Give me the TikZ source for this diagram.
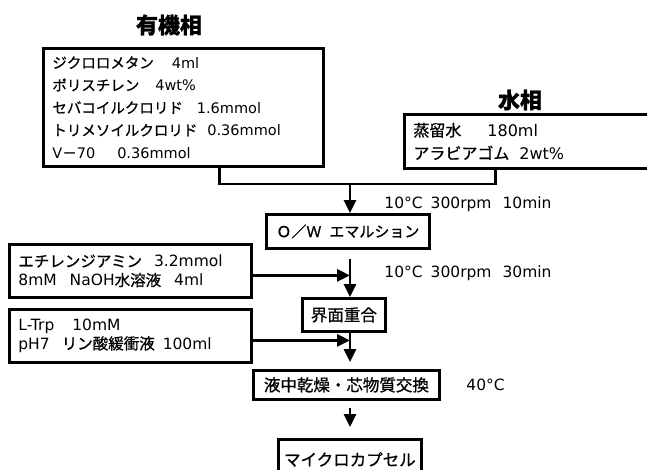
\documentclass[tikz,border=0pt]{standalone}
\usepackage{fontspec}
\setmainfont{DejaVu Sans}
\newfontfamily\jp{Noto Sans CJK JP}[FakeBold=0.8]
\usetikzlibrary{arrows.meta}

\begin{document}
\begin{tikzpicture}[x=1pt,y=-1pt,line width=2.8pt,
  box/.style={draw,anchor=north west,align=left,inner xsep=9pt,inner ysep=0pt},
  flow/.style={draw,anchor=north west,align=center,inner sep=0pt,font=\jp\fontsize{16.5}{18}\selectfont},
  ttl/.style={inner sep=0pt,font=\jp\bfseries\fontsize{22}{26}\selectfont},
  lbl/.style={anchor=west,inner sep=0pt,font=\fontsize{15.5}{18}\selectfont},
  arr/.style={-{Triangle[length=13pt,width=12pt]}}]
\useasboundingbox (0,0) rectangle (647,469);
\clip (0,0) rectangle (647,469);
% phases
\node[ttl] (torg) at (169,25) {有機相};
\node[box,text width=262pt,minimum height=118pt,font=\fontsize{14.5}{22.5}\selectfont] (org) at (42,47)
  {{\jp ジクロロメタン}\hspace{18pt}4ml\\
   {\jp ポリスチレン}\hspace{16pt}4wt\%\\
   {\jp セバコイルクロリド}\hspace{14pt}1.6mmol\\
   {\jp トリメソイルクロリド}\hspace{10pt}0.36mmol\\
   V{\jp －}70\hspace{22pt}0.36mmol};
\node[ttl] (twat) at (520,100) {水相};
\node[box,text width=240pt,minimum height=54pt,font=\fontsize{16}{23}\selectfont] (wat) at (403,113)
  {{\jp 蒸留水}\hspace{26pt}180ml\\
   {\jp アラビアゴム}\hspace{10pt}2wt\%};
% steps
\node[flow,minimum width=163pt,minimum height=34pt,font=\jp\fontsize{15}{18}\selectfont] (ow) at (265,213) {Ｏ／Ｗ\hspace{8pt}エマルション};
\node[box,text width=224pt,minimum height=53pt,font=\fontsize{15.5}{19}\selectfont] (eda) at (8,243)
  {{\jp エチレンジアミン}\hspace{12pt}3.2mmol\\
   8mM\hspace{13pt}NaOH{\jp 水溶液}\hspace{13pt}4ml};
\node[flow,minimum width=83pt,minimum height=33pt] (ifp) at (301,297) {界面重合};
\node[box,text width=224pt,minimum height=53pt,font=\fontsize{15.5}{18.5}\selectfont] (trp) at (8,308)
  {L-Trp\hspace{18pt}10mM\\
   pH7\hspace{12pt}{\jp リン酸緩衝液}\hspace{8pt}100ml};
\node[flow,minimum width=186pt,minimum height=29pt] (dry) at (252,369) {液中乾燥・芯物質交換};
\node[flow,minimum width=143pt,minimum height=40pt] (mc) at (277,438) {マイクロカプセル};
% conditions
\node[lbl] (c1) at (383,204) {10°C\hspace{8pt}300rpm\hspace{11pt}10min};
\node[lbl] (c2) at (383,273) {10°C\hspace{8pt}300rpm\hspace{11pt}30min};
\node[lbl] (c3) at (465,385) {40°C};
% connectors
\coordinate (jn) at (350,184);
\draw ([xshift=36pt]org.south) |- (jn) -| ([xshift=-38pt]wat.south);
\draw[arr] (jn) -- (ow.north -| jn);
\draw[arr,shorten <=9pt] (ow.south -| jn) -- (ifp.north -| jn);
\draw[arr] ([yshift=-4.5pt]eda.east) -- ([yshift=-4.5pt]eda.east -| jn);
\draw[arr] ([yshift=-4.5pt]trp.east) -- ([yshift=-4.5pt]trp.east -| jn);
\draw[arr,shorten >=7pt] (ifp.south -| jn) -- (dry.north -| jn);
\draw[arr,shorten <=7pt,shorten >=11pt] (dry.south -| jn) -- (mc.north -| jn);
\end{tikzpicture}
\end{document}
